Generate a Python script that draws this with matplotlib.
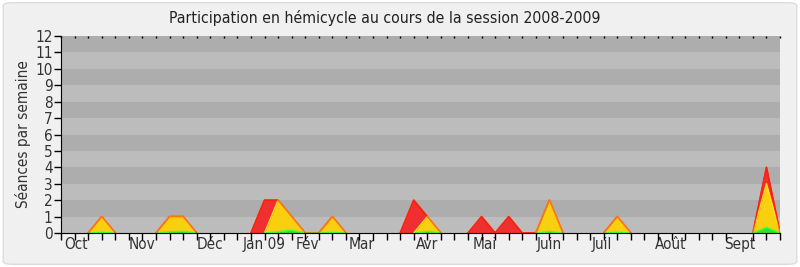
import matplotlib
matplotlib.use("Agg")
import matplotlib.pyplot as plt
from matplotlib.patches import FancyBboxPatch
import numpy as np

# Data: weekly values, session 2008-2009 (54 weeks)
n_weeks = 54
red_vals = {3: 1, 8: 1, 9: 1, 15: 2, 16: 2, 17: 1, 20: 1, 26: 2, 27: 1,
            31: 1, 33: 1, 36: 2, 41: 1, 52: 4}
yellow_vals = {3: 1, 8: 1, 9: 1, 16: 2, 17: 1, 20: 1, 27: 1, 36: 2, 41: 1, 52: 3}
green_vals = {3: 0.04, 8: 0.08, 9: 0.1, 16: 0.08, 17: 0.18, 20: 0.04,
              27: 0.1, 36: 0.1, 41: 0.05, 52: 0.35}

weeks = np.arange(n_weeks)
red = np.array([red_vals.get(i, 0) for i in weeks], dtype=float)
yellow = np.array([yellow_vals.get(i, 0) for i in weeks], dtype=float)
green = np.array([green_vals.get(i, 0) for i in weeks], dtype=float)

month_labels = ["Oct", "Nov", "Déc", "Jan 09", "Fév", "Mar", "Avr", "Mai",
                "Juin", "Juil", "Août", "Sept"]
month_pos = [1.14, 5.97, 10.98, 14.96, 18.2, 22.2, 26.97, 31.2, 35.96,
             39.9, 44.95, 50.0]
y_ticks = list(range(0, 13))


def hide_flat_zero(v):
    """NaN where a point and its neighbours are all zero (keeps baseline clean)."""
    out = v.copy()
    padded = np.concatenate([[0], v, [0]])
    for i in range(len(v)):
        if padded[i] == 0 and padded[i + 1] == 0 and padded[i + 2] == 0:
            out[i] = np.nan
    return out


plt.rcParams['font.family'] = ['DejaVu Sans']
plt.rcParams['font.stretch'] = 'condensed'

fig = plt.figure(figsize=(8, 2.67), dpi=100)
fig.patch.set_facecolor('white')
bg = FancyBboxPatch((0.004, 0.01), 0.992, 0.98, boxstyle="round,pad=0,rounding_size=0.012",
                    transform=fig.transFigure, facecolor='#f0f0f0', edgecolor='#dcdcdc',
                    linewidth=1, zorder=-10)
fig.patches.append(bg)

ax = fig.add_axes([0.07625, 0.1273, 0.8988, 0.7379])
ax.set_zorder(1)
ax.set_facecolor('#bcbcbc')
for k in range(12):
    if k % 2 == 1:
        ax.axhspan(k, k + 1, color='#adadad', lw=0, zorder=0)

ax.fill_between(weeks, 0, red, color='#f03030', lw=0, zorder=2)
ax.plot(weeks, hide_flat_zero(red), color='#ff1010', lw=1.2, zorder=3)
ax.fill_between(weeks, 0, yellow, color='#f8d010', lw=0, zorder=4)
ax.plot(weeks, hide_flat_zero(yellow), color='#ffe020', lw=1.0, zorder=5)
ax.fill_between(weeks, 0, green, color='#30e030', lw=0, zorder=6)
ax.plot(weeks, hide_flat_zero(green), color='#40ff40', lw=1.0, zorder=7)
# red outline on top, semi-transparent (orange edges)
ax.plot(weeks, hide_flat_zero(red), color='#ff3000', lw=1.0, alpha=0.6, zorder=8)

ax.set_xlim(0, n_weeks - 1)
ax.set_ylim(0, 12)
ax.set_yticks(y_ticks)
ax.set_yticklabels([str(v) for v in y_ticks], fontsize=11, color='#333333')
ax.tick_params(axis='y', direction='out', length=5, width=1, pad=1)

ax.set_xticks(month_pos)
ax.set_xticklabels(month_labels, fontsize=11, color='#333333')
ax.set_xticks(weeks, minor=True)
ax.tick_params(axis='x', which='major', length=0, pad=3)
ax.tick_params(axis='x', which='minor', direction='out', length=5, width=1,
               top=False, bottom=True)

top = ax.secondary_xaxis('top')
top.set_xticks([])
top.set_xticks(weeks, minor=True)
top.tick_params(which='minor', direction='in', length=1.5, width=1, color='black')
top.spines['top'].set_visible(False)

for s in ['top', 'right']:
    ax.spines[s].set_visible(False)
for s in ['left', 'bottom']:
    ax.spines[s].set_color('black')
    ax.spines[s].set_zorder(20)

ax.set_ylabel("Séances par semaine", fontsize=11, color='#333333', labelpad=3)
fig.text(0.4813, 0.933, "Participation en hémicycle au cours de la session 2008-2009",
         ha='center', va='center', fontsize=11.3, color='#222222')

fig.savefig("out.png", dpi=100, facecolor=fig.get_facecolor())
